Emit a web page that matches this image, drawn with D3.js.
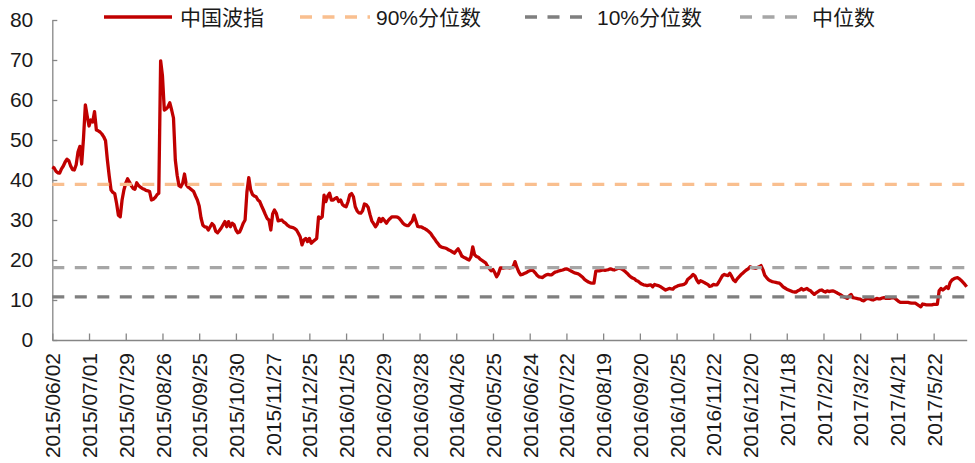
<!DOCTYPE html>
<html><head><meta charset="utf-8">
<script src="https://cdn.jsdelivr.net/npm/d3@7"></script>
<style>
html,body{margin:0;padding:0;background:#fff;}
svg{display:block;font-family:"Liberation Sans",Arial,"Noto Sans CJK SC",sans-serif;}
</style></head>
<body><svg id="chart" width="975" height="463"></svg>
<script>
// ---- data ----
const tickLabels = ["2015/06/02","2015/07/01","2015/07/29","2015/08/26","2015/09/25","2015/10/30","2015/11/27","2015/12/25","2016/01/25","2016/02/29","2016/03/28","2016/04/26","2016/05/25","2016/06/24","2016/07/22","2016/08/19","2016/09/20","2016/10/25","2016/11/22","2016/12/20","2017/1/18","2017/2/22","2017/3/22","2017/4/21","2017/5/22"];
const tickEvery = 20; // trading days between labels
const seriesNames = ["中国波指","90%分位数","10%分位数","中位数"];
const p90 = 38.9;
const p10 = 10.8;
const median = 18.1;
const vix = [
43.3,43.0,42.2,41.8,41.7,42.8,43.5,44.5,45.2,44.8,43.5,42.6,42.5,43.8,47.0,48.4,44.0,50.5,58.8,56.0,
53.5,55.0,54.5,57.1,52.5,52.3,52.0,51.5,50.8,49.8,45.0,41.0,37.5,36.9,36.6,34.2,31.2,30.8,35.0,37.5,
39.2,40.3,39.5,38.6,37.9,37.7,39.3,38.6,38.2,37.9,37.7,37.4,37.3,37.1,35.0,35.2,35.6,36.3,36.7,69.8,
66.0,57.5,57.8,58.3,59.3,57.5,55.5,45.0,41.2,38.6,38.3,39.2,41.5,38.8,38.2,37.9,37.5,37.1,36.0,35.0,
33.5,30.5,28.7,28.3,28.2,27.5,28.3,29.1,28.6,27.2,26.8,27.4,28.0,28.8,29.6,28.3,29.6,28.3,29.2,28.8,
27.5,26.8,27.0,28.0,29.2,30.0,37.0,40.6,37.6,36.4,36.0,35.8,35.0,34.6,33.5,32.5,31.4,30.4,30.0,27.5,
31.5,32.5,31.7,29.8,29.9,30.0,29.5,29.2,28.7,28.4,28.2,28.1,27.9,27.5,26.7,25.8,23.8,25.0,25.4,24.6,
25.4,24.2,24.6,25.0,25.4,30.8,30.4,30.8,36.2,34.6,36.0,36.7,35.0,35.0,35.4,35.6,34.6,35.0,33.9,33.5,
33.3,34.5,36.3,36.6,35.8,33.3,32.3,31.8,31.7,32.3,34.0,33.8,33.2,31.4,29.8,29.1,28.3,29.0,30.4,29.6,
30.4,29.8,29.2,29.9,30.4,30.8,30.8,30.8,30.7,30.4,29.8,29.2,28.8,28.6,28.6,29.2,29.7,31.2,29.8,28.4,
28.3,28.3,28.0,27.8,27.5,27.1,26.7,26.0,25.4,24.7,24.1,23.5,23.2,23.1,23.0,22.8,22.5,22.3,22.0,21.7,
22.3,22.8,22.0,21.0,20.7,20.5,20.2,20.0,20.8,23.3,21.3,20.9,20.7,20.2,19.9,19.6,19.3,18.5,17.9,17.3,
17.6,16.8,15.8,16.6,18.0,18.0,18.0,18.1,18.1,18.0,18.1,18.3,19.6,18.2,17.1,16.3,16.4,16.6,16.8,17.1,
17.3,17.5,17.3,16.8,16.2,15.8,15.7,15.6,16.0,16.3,16.4,16.3,16.3,16.7,17.0,17.1,17.3,17.4,17.5,17.7,
17.8,17.6,17.4,17.1,16.9,16.7,16.6,16.4,16.0,15.6,15.1,14.8,14.5,14.3,14.2,14.2,17.2,17.3,17.3,17.4,
17.5,17.4,17.5,17.6,17.8,17.6,17.5,17.7,17.9,17.9,17.8,17.5,17.1,16.7,16.2,15.8,15.5,15.3,14.9,
14.7,14.3,14.0,13.8,13.7,13.6,13.7,13.8,13.3,13.9,13.7,13.6,13.4,13.1,12.8,12.5,12.7,12.9,12.8,12.7,
13.2,13.4,13.6,13.7,13.8,13.9,14.2,15.1,15.5,15.9,16.4,16.0,15.0,14.3,14.8,14.6,14.4,14.1,13.9,13.4,
13.5,13.9,13.8,13.8,14.5,15.3,16.1,16.4,16.2,16.1,16.7,15.9,15.0,14.6,15.3,15.8,16.3,16.7,17.1,17.5,
17.8,18.3,18.1,18.0,17.9,18.1,18.3,18.6,17.6,16.2,15.6,15.1,14.8,14.6,14.5,14.4,14.3,14.2,13.8,13.3,
13.0,12.7,12.5,12.3,12.1,12.0,12.0,12.3,12.5,12.9,12.5,12.7,12.9,12.5,12.3,11.8,11.4,11.8,12.1,12.4,
12.5,12.2,12.0,12.3,12.1,12.2,12.3,12.1,11.9,11.6,11.4,11.1,10.8,10.6,10.4,11.0,11.4,10.6,10.5,10.4,
10.3,10.2,9.9,9.8,10.2,10.4,10.3,10.1,10.0,10.2,10.4,10.3,10.3,10.5,10.6,10.4,10.4,10.4,10.5,10.6,
10.4,10.0,9.6,9.4,9.4,9.4,9.4,9.4,9.3,9.2,9.2,9.2,8.9,8.6,8.3,9.0,8.9,8.8,8.8,8.8,
8.8,8.9,8.9,8.9,12.3,12.9,12.5,12.9,13.3,12.9,14.4,15.0,15.3,15.5,15.6,15.3,14.9,14.4,13.9,13.3
];
const yTicks = [0,10,20,30,40,50,60,70,80];

// ---- drawing ----
const svg = d3.select("#chart");
const plotLeft = 52.3, plotRight = 966.7, plotTop = 20, plotBottom = 340;
const x = d3.scaleLinear().domain([0, vix.length - 1]).range([plotLeft, plotRight]);
const y = d3.scaleLinear().domain([0, 80]).range([plotBottom, plotTop]);
const txt = "#1a1a1a", axisCol = "#868686";
const colors = ["#C00000", "#F9BF8F", "#7F7F7F", "#A6A6A6"];
const dash = "12,10.5";

// y axis
const yAxis = svg.append("g").attr("transform", `translate(${plotLeft},0)`)
  .call(d3.axisLeft(y).tickValues(yTicks).tickSizeInner(-5).tickSizeOuter(0).tickPadding(19));
yAxis.select(".domain").attr("stroke", axisCol).attr("stroke-width", 1.3);
yAxis.selectAll(".tick line").attr("stroke", axisCol).attr("stroke-width", 1.3);
yAxis.selectAll(".tick text").attr("font-size", 21).attr("fill", txt)
  .attr("font-family", "'Liberation Sans',Arial,sans-serif");

// x axis
const xTickIdx = tickLabels.map((d, i) => i * tickEvery);
const xAxis = svg.append("g").attr("transform", `translate(0,${plotBottom})`)
  .call(d3.axisBottom(x).tickValues(xTickIdx).tickFormat((d, i) => tickLabels[i])
    .tickSizeInner(-6.5).tickSizeOuter(0));
xAxis.select(".domain").attr("stroke", axisCol).attr("stroke-width", 1.3);
xAxis.selectAll(".tick line").attr("stroke", axisCol).attr("stroke-width", 1.3);
xAxis.selectAll(".tick text")
  .attr("font-size", 21).attr("fill", txt)
  .attr("font-family", "'Liberation Sans',Arial,sans-serif")
  .attr("text-anchor", "end")
  .attr("transform", "rotate(-90)")
  .attr("x", -13).attr("y", 0).attr("dy", "0.36em");

// main series
const line = d3.line().x((d, i) => x(i)).y(d => y(d));
svg.append("path").datum(vix).attr("d", line)
  .attr("fill", "none").attr("stroke", colors[0]).attr("stroke-width", 3.3)
  .attr("stroke-linejoin", "round");

// reference lines
[p90, p10, median].forEach((v, k) => {
  svg.append("line").attr("x1", x(0)).attr("x2", x(vix.length - 1))
    .attr("y1", y(v)).attr("y2", y(v))
    .attr("stroke", colors[k + 1]).attr("stroke-width", 3.2)
    .attr("stroke-dasharray", dash);
});

// legend
const legendItems = [
  {x1: 104, x2: 172, tx: 180},
  {x1: 300, x2: 370, tx: 376},
  {x1: 525, x2: 592, tx: 597},
  {x1: 740, x2: 806, tx: 812}
];
const ly = 17;
legendItems.forEach((it, k) => {
  svg.append("line").attr("x1", it.x1).attr("x2", it.x2).attr("y1", ly).attr("y2", ly)
    .attr("stroke", colors[k]).attr("stroke-width", 3.3)
    .attr("stroke-dasharray", k === 0 ? null : dash);
  svg.append("text").attr("x", it.tx).attr("y", ly).attr("dy", "0.36em")
    .attr("font-size", 21).attr("fill", txt).text(seriesNames[k]);
});
</script></body></html>
